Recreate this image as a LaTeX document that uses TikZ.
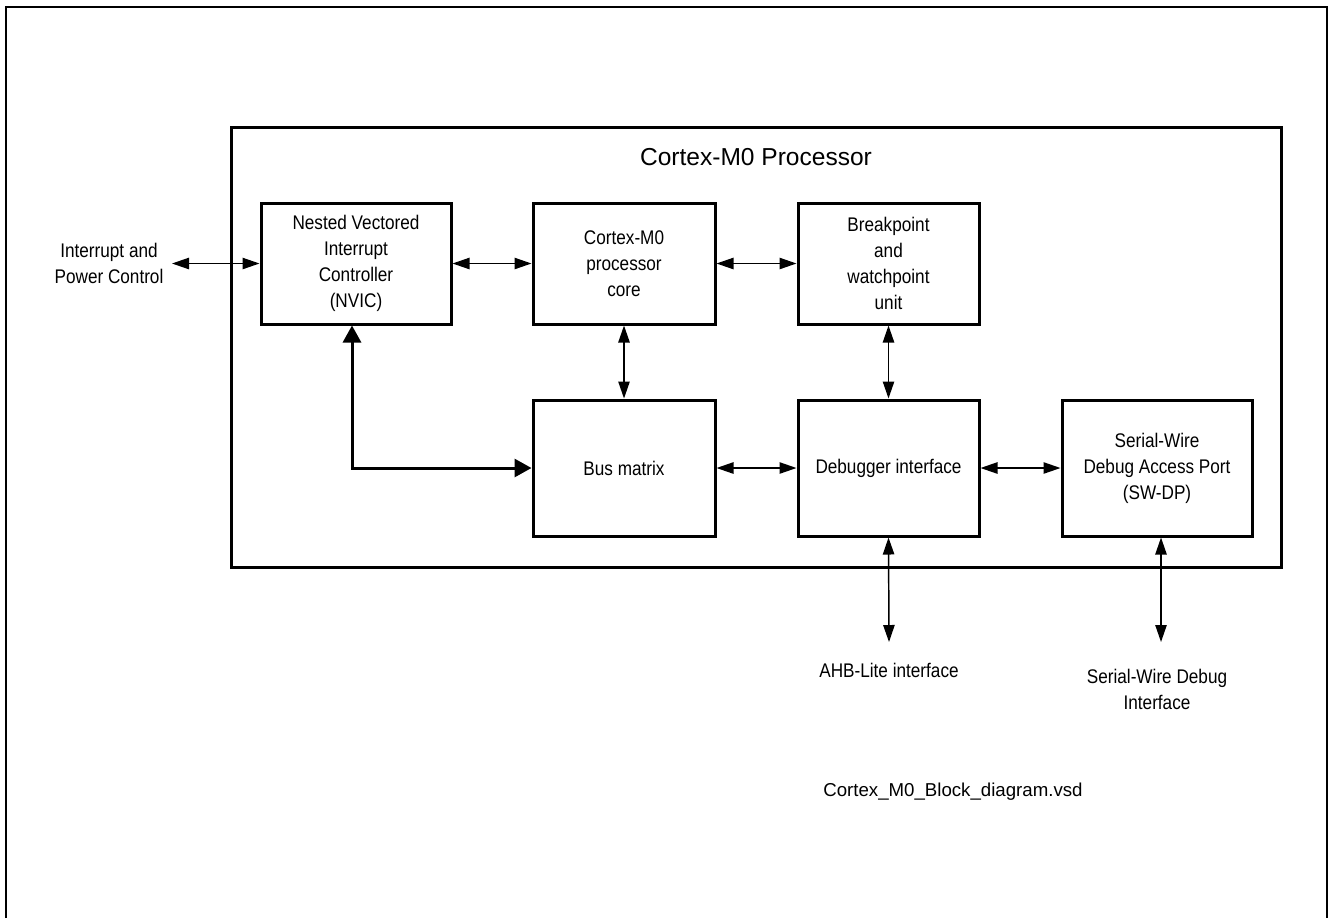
\documentclass[tikz,border=0pt]{standalone}
\usepackage{fontspec}
\setmainfont{Liberation Sans}
\newfontfamily\narrowfont[FakeStretch=0.87]{Liberation Sans}
\usetikzlibrary{arrows.meta}
\begin{document}
\begin{tikzpicture}[x=0.75pt,y=-0.75pt,
  blk/.style={draw, line width=2.25pt, rectangle, inner sep=0pt, align=center,
    font=\narrowfont\fontsize{14.8}{19.5}\selectfont},
  lbl/.style={align=center, inner sep=0pt, font=\narrowfont\fontsize{14.8}{19.5}\selectfont},
  conn/.style={line width=1.1pt, {Triangle[length=12.75pt,width=8.5pt]}-{Triangle[length=12.75pt,width=8.5pt]}},
  bigconn/.style={line width=2.25pt, {Triangle[length=12.75pt,width=13.5pt]}-{Triangle[length=12.75pt,width=13.5pt]}},
]
\useasboundingbox (0,0) rectangle (1330,918);
% page frame
\draw[line width=1.5pt] (6,918) -- (6,7) -- (1327,7) -- (1327,918);

% processor box
\node[draw, line width=2.25pt, rectangle, inner sep=0pt, minimum width=787.1pt, minimum height=330pt] (cpu) at (756.25,347) {};
\node[inner sep=0pt, font=\fontsize{18.4}{22}\selectfont] (title) at (756,157) {Cortex-M0 Processor};

% blocks
\node[blk, minimum width=142.5pt, minimum height=90.75pt] (nvic) at (356,263.5) {Nested Vectored\\Interrupt\\Controller\\(NVIC)};
\node[blk, minimum width=136.5pt, minimum height=90.75pt] (core) at (624,263.5) {Cortex-M0\\processor\\core};
\node[blk, minimum width=135.75pt, minimum height=90.75pt] (bw) at (888.5,263.5) {Breakpoint\\and\\watchpoint\\unit};
\node[blk, minimum width=136.5pt, minimum height=102pt] (bus) at (624,468) {Bus matrix};
\node[blk, minimum width=135.75pt, minimum height=102pt] (dbg) at (888.5,468) {Debugger interface};
\node[blk, minimum width=142.5pt, minimum height=102pt] (swdp) at (1157,468) {Serial-Wire\\Debug Access Port\\(SW-DP)};

% external labels
\node[lbl] (intr) at (109,263) {Interrupt and\\Power Control};
\node[lbl] (ahb) at (889,670) {AHB-Lite interface};
\node[lbl] (swd) at (1157,689) {Serial-Wire Debug\\Interface};
\node[inner sep=0pt, anchor=west, font=\fontsize{14}{16}\selectfont] (file) at (823,792) {Cortex\_M0\_Block\_diagram.vsd};

% free ends
\coordinate (intrend) at (172,263.5);
\coordinate (ahbend) at (889,642);
\coordinate (swdend) at (1161,642);

% connectors
\draw[conn] (intrend) -- (nvic.west);
\draw[conn] (nvic.east) -- (core.west);
\draw[conn] (core.east) -- (bw.west);
\draw[conn] (core.south) -- (bus.north);
\draw[conn] (bw.south) -- (dbg.north);
\draw[conn] (bus.east) -- (dbg.west);
\draw[conn] (dbg.east) -- (swdp.west);
\draw[conn] (dbg.south) -- (ahbend);
\draw[conn] (swdend |- swdp.south) -- (swdend);
\draw[bigconn] ([xshift=-3pt]nvic.south) |- (bus.west);
\end{tikzpicture}
\end{document}
